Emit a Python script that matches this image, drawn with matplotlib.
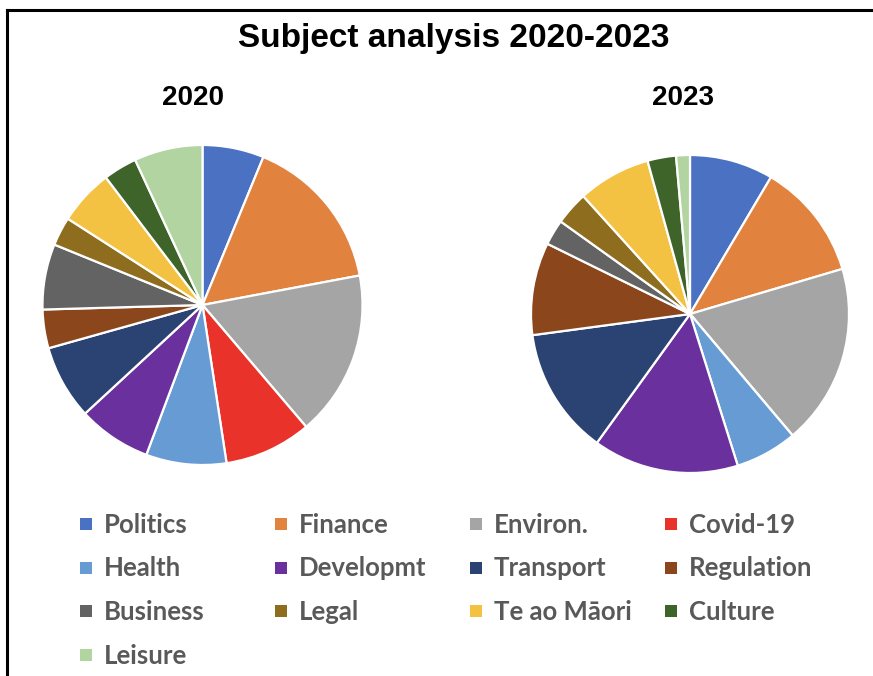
import matplotlib.pyplot as plt
from matplotlib.patches import Rectangle
from matplotlib.lines import Line2D

# subject share of coverage, percent
subjects = ["Politics", "Finance", "Environ.", "Covid-19", "Health", "Developmt",
            "Transport", "Regulation", "Business", "Legal", "Te ao Māori",
            "Culture", "Leisure"]
share_2020 = [6.2, 15.8, 16.7, 8.8, 8.1, 7.4, 7.5, 3.9, 6.6, 2.9, 5.6, 3.4, 6.9]
share_2023 = [8.5, 11.9, 18.4, 0.0, 6.3, 14.8, 12.9, 9.4, 2.6, 3.4, 7.4, 2.9, 1.4]

colors = ["#4A71C2", "#E1823F", "#A5A5A5", "#E8322A", "#679BD3", "#6A309D",
          "#2A4373", "#8C461C", "#636363", "#8E6D1E", "#F4C243", "#3F6429",
          "#B2D4A0"]

W, H = 873, 676
fig = plt.figure(figsize=(W / 100, H / 100), dpi=100)

title_font = ["Liberation Sans", "DejaVu Sans"]
legend_font = ["Lato", "DejaVu Sans"]


def px_axes(cx, cy, r):
    return fig.add_axes([(cx - r) / W, 1 - (cy + r) / H, 2 * r / W, 2 * r / H])


def draw_pie(ax, values):
    ax.pie(values, colors=colors, startangle=90, counterclock=False,
           wedgeprops=dict(edgecolor="white", linewidth=1.6))
    ax.set_xlim(-1, 1)
    ax.set_ylim(-1, 1)
    ax.set_aspect("equal")
    ax.axis("off")


draw_pie(px_axes(202.5, 305, 160), share_2020)
draw_pie(px_axes(690, 314, 159), share_2023)

fig.text(454 / W, 1 - 38 / H, "Subject analysis 2020-2023", ha="center", va="center",
         fontsize=24, fontweight="bold", family=title_font)
fig.text(193 / W, 1 - 98 / H, "2020", ha="center", va="center",
         fontsize=20, fontweight="bold", family=title_font)
fig.text(683 / W, 1 - 98 / H, "2023", ha="center", va="center",
         fontsize=20, fontweight="bold", family=title_font)

# legend laid out in fixed-width columns
for i, (name, c) in enumerate(zip(subjects, colors)):
    col, row = i % 4, i // 4
    x = 80 + col * 195
    y = 524 + row * 43.5
    fig.patches.append(Rectangle((x / W, 1 - (y + 6) / H), 12 / W, 12 / H,
                                 transform=fig.transFigure, facecolor=c,
                                 edgecolor="none"))
    fig.text((x + 24) / W, 1 - (y + 1) / H, name, ha="left", va="center",
             fontsize=18.5, fontweight="bold", color="#595959", family=legend_font)

# border on top and left edges
fig.add_artist(Line2D([7 / W, 1], [1 - 10 / H, 1 - 10 / H], color="black", lw=2.2,
                      transform=fig.transFigure))
fig.add_artist(Line2D([7 / W, 7 / W], [0, 1 - 10 / H], color="black", lw=2.2,
                      transform=fig.transFigure))

fig.savefig("out.png", dpi=100)
